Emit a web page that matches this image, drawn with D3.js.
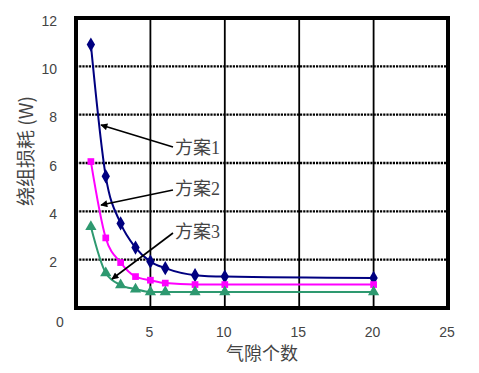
<!DOCTYPE html>
<html><head><meta charset="utf-8">
<script src="https://cdn.jsdelivr.net/npm/d3@7"></script>
<style>body{margin:0;background:#fff}svg{display:block}</style>
</head><body>
<svg id="c" width="479" height="373"></svg>
<script>
const xValues = [1, 2, 3, 4, 5, 6, 8, 10, 20];
const series1 = [10.9, 5.45, 3.5, 2.5, 1.92, 1.65, 1.36, 1.3, 1.24];
const series2 = [6.06, 2.9, 1.88, 1.3, 1.15, 1.03, 0.97, 0.97, 0.97];
const series3 = [3.36, 1.45, 0.95, 0.78, 0.66, 0.66, 0.66, 0.66, 0.66];
const xTicks = [5, 10, 15, 20, 25];
const yTicks = [2, 4, 6, 8, 10, 12];
const seriesNames = ["方案1", "方案2", "方案3"];
const xTitle = "气隙个数";
const yTitle = "绕组损耗 (W)";

const svg = d3.select("#c");
const x = d3.scaleLinear().domain([0, 25]).range([76, 448]);
const y = d3.scaleLinear().domain([0, 12]).range([308, 18]);

// horizontal dashed grid
svg.append("g").selectAll("line").data([2,4,6,8,10]).join("line")
  .attr("x1", x(0)).attr("x2", x(25)).attr("y1", d=>y(d)).attr("y2", d=>y(d))
  .attr("stroke", "#000").attr("stroke-width", 2.4).attr("stroke-dasharray", "2.2,1");
// vertical solid grid
svg.append("g").selectAll("line").data([5,10,15,20]).join("line")
  .attr("y1", y(0)).attr("y2", y(12)).attr("x1", d=>x(d)).attr("x2", d=>x(d))
  .attr("stroke", "#000").attr("stroke-width", 1.8);
// frame
svg.append("rect").attr("x", x(0)).attr("y", y(12)).attr("width", x(25)-x(0)).attr("height", y(0)-y(12))
  .attr("fill", "none").attr("stroke", "#000").attr("stroke-width", 4);

// tick labels
const tickFont = "'Liberation Sans', Arial, sans-serif";
svg.append("g").selectAll("text").data(yTicks).join("text")
  .attr("x", 57).attr("y", d=>y(d)+4).attr("text-anchor", "end").attr("dominant-baseline", "middle")
  .attr("font-family", tickFont).attr("font-size", 14).attr("fill", "#444").text(d=>d);
svg.append("text").attr("x", 60).attr("y", y(0)+15).attr("text-anchor", "middle").attr("dominant-baseline", "middle")
  .attr("font-family", tickFont).attr("font-size", 14).attr("fill", "#444").text("0");
svg.append("g").selectAll("text").data(xTicks).join("text")
  .attr("x", d=>x(d)-1).attr("y", y(0)+25).attr("text-anchor", "middle").attr("dominant-baseline", "middle")
  .attr("font-family", tickFont).attr("font-size", 14).attr("fill", "#444").text(d=>d);

// axis titles
const cjk = "'Noto Sans CJK SC', sans-serif";
svg.append("text").attr("x", 262).attr("y", 355).attr("text-anchor", "middle").attr("dominant-baseline", "middle")
  .attr("font-family", cjk).attr("font-size", 18).attr("fill", "#444").text(xTitle);
svg.append("text").attr("transform", "translate(28,151) rotate(-90)").attr("text-anchor", "middle").attr("dominant-baseline", "middle")
  .attr("font-family", cjk).attr("font-size", 19).attr("fill", "#444").text(yTitle);

// series
const colors = ["#000080", "#ff00ff", "#2e9970"];
const data = [series1, series2, series3];
const symbols = [d3.symbolDiamond, d3.symbolSquare, d3.symbolTriangle];
const symSizes = [60, 45, 55];
const line = d3.line().x((d,i)=>x(xValues[i])).y(d=>y(d)).curve(d3.curveMonotoneX);
data.forEach((s, k) => {
  svg.append("path").datum(s).attr("d", line).attr("fill", "none")
    .attr("stroke", colors[k]).attr("stroke-width", 2);
  svg.append("g").selectAll("path").data(s).join("path")
    .attr("transform", (d,i)=>`translate(${x(xValues[i])},${y(d)})`)
    .attr("d", d3.symbol().type(symbols[k]).size(symSizes[k]))
    .attr("fill", colors[k]);
});

// annotations
const defs = svg.append("defs");
defs.append("marker").attr("id", "ah").attr("viewBox", "0 0 10 10").attr("refX", 9).attr("refY", 5)
  .attr("markerWidth", 9).attr("markerHeight", 7).attr("markerUnits", "userSpaceOnUse").attr("orient", "auto")
  .append("path").attr("d", "M0,0 L10,5 L0,10 z").attr("fill", "#000");
const arrows = [
  {x1:173, y1:147, x2:101, y2:125, tx:175, ty:150},
  {x1:173, y1:190, x2:101, y2:205, tx:175, ty:191},
  {x1:173, y1:233, x2:112, y2:279, tx:175, ty:234}
];
arrows.forEach((a,k) => {
  svg.append("line").attr("x1", a.x1).attr("y1", a.y1).attr("x2", a.x2).attr("y2", a.y2)
    .attr("stroke", "#000").attr("stroke-width", 1.6).attr("marker-end", "url(#ah)");
  svg.append("text").attr("x", a.tx).attr("y", a.ty).attr("dominant-baseline", "middle")
    .attr("font-family", "'Liberation Serif', " + cjk).attr("font-size", 18).attr("fill", "#444").text(seriesNames[k]);
});
</script>
</body></html>
